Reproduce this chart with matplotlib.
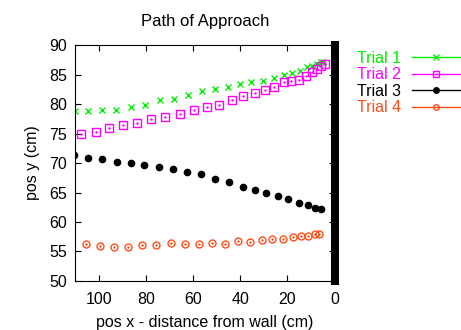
import matplotlib
matplotlib.use("Agg")
import matplotlib.pyplot as plt

plt.rcParams['font.family'] = ['Liberation Sans', 'DejaVu Sans']

# trial 1
x1 = [110.1, 104.4, 98.5, 92.5, 86.3, 80.3, 74.0, 68.1, 62.1, 56.3, 50.6, 45.4, 40.3, 35.3,
      30.2, 25.8, 21.6, 18.2, 14.8, 11.9, 9.7, 7.7, 6.0, 4.9]
y1 = [78.8, 78.8, 78.9, 79.0, 79.5, 79.8, 80.6, 80.9, 81.5, 82.2, 82.6, 82.9, 83.4, 83.7,
      83.9, 84.4, 84.9, 85.3, 85.6, 86.2, 86.4, 86.8, 87.1, 87.2]
# trial 2
x2 = [107.4, 101.3, 95.5, 89.5, 83.6, 77.6, 71.7, 65.7, 59.7, 54.0, 48.8, 43.7, 38.9, 33.9,
      29.4, 25.5, 21.6, 18.5, 15.3, 12.2, 9.7, 7.4, 5.7, 4.0]
y2 = [74.9, 75.3, 75.9, 76.4, 76.7, 77.5, 77.8, 78.3, 78.9, 79.5, 79.9, 80.6, 81.3, 81.9,
      82.4, 82.9, 83.7, 83.9, 84.1, 84.7, 85.4, 86.0, 86.4, 86.8]
# trial 3
x3 = [110.4, 104.3, 98.5, 92.3, 86.4, 80.6, 74.5, 68.4, 62.4, 56.5, 50.6, 44.7, 39.0, 33.8,
      29.0, 24.0, 19.6, 15.3, 11.2, 8.3, 6.0]
y3 = [71.4, 70.9, 70.6, 70.2, 70.0, 69.7, 69.3, 68.9, 68.4, 68.1, 67.3, 66.7, 66.0, 65.5,
      64.9, 64.4, 63.9, 63.3, 62.9, 62.4, 62.2]
# trial 4
x4 = [105.5, 99.6, 93.6, 87.7, 81.7, 75.9, 69.5, 63.6, 57.6, 51.8, 46.3, 41.0, 35.9, 30.9,
      26.6, 21.9, 17.7, 14.2, 11.1, 8.3, 6.8]
y4 = [56.2, 55.9, 55.8, 55.7, 56.1, 56.1, 56.4, 56.3, 56.3, 56.4, 56.3, 56.7, 56.6, 56.9,
      57.1, 57.2, 57.5, 57.6, 57.7, 57.9, 58.0]

labels = ["Trial 1", "Trial 2", "Trial 3", "Trial 4"]
colors = ["#00ee00", "#ff00ff", "#000000", "#ff4d1a"]

fig = plt.figure(figsize=(4.61, 3.30), dpi=100)
ax = fig.add_axes([0.1627, 0.1485, 0.5633, 0.7151])

ax.plot(x1, y1, ls='none', marker='x', ms=5, mew=1.0, color=colors[0], label=labels[0])
ax.plot(x2, y2, ls='none', marker='s', ms=5.5, mfc='none', mew=1.0, color=colors[1], label=labels[1])
ax.plot(x3, y3, ls='none', marker='o', ms=4.5, color=colors[2], label=labels[2])
ax.plot(x4, y4, ls='none', marker='o', ms=5, mfc='none', mew=1.0, color=colors[3], label=labels[3])
# gnuplot-style centre dots
for xs, ys, c in [(x2, y2, colors[1]), (x4, y4, colors[3])]:
    ax.plot(xs, ys, ls='none', marker='.', ms=1.5, color=c)

# the wall
ax.axvline(0, color='k', lw=5.8, clip_on=False)

ax.set_xlim(110, 0)
ax.set_ylim(50, 90)
ax.set_xticks([100, 80, 60, 40, 20, 0])
ax.set_yticks(range(50, 91, 5))
ax.tick_params(direction='in', top=True, right=True, labelsize=11.5, length=4)
ax.tick_params(axis='x', pad=8)
ax.tick_params(axis='y', pad=6)
ax.set_title("Path of Approach", fontsize=12, pad=14)
ax.set_xlabel("pos x - distance from wall (cm)", fontsize=11.5, labelpad=6)
ax.set_ylabel("pos y (cm)", fontsize=11.5, labelpad=6)

hs = [plt.Line2D([], [], color=colors[0], marker='x', ms=4, lw=1),
      plt.Line2D([], [], color=colors[1], marker='s', ms=4, mfc='none', lw=1),
      plt.Line2D([], [], color=colors[2], marker='o', ms=4, lw=1),
      plt.Line2D([], [], color=colors[3], marker='o', ms=4, mfc='none', lw=1)]
leg = fig.legend(hs, labels, loc='upper right', bbox_to_anchor=(1.012, 0.866), frameon=False,
                 markerfirst=False, handlelength=3.0, handletextpad=0.7, labelspacing=0.1,
                 fontsize=11.5, borderaxespad=0)
for t, c in zip(leg.get_texts(), colors):
    t.set_color(c)

fig.savefig("out.png", dpi=100)
